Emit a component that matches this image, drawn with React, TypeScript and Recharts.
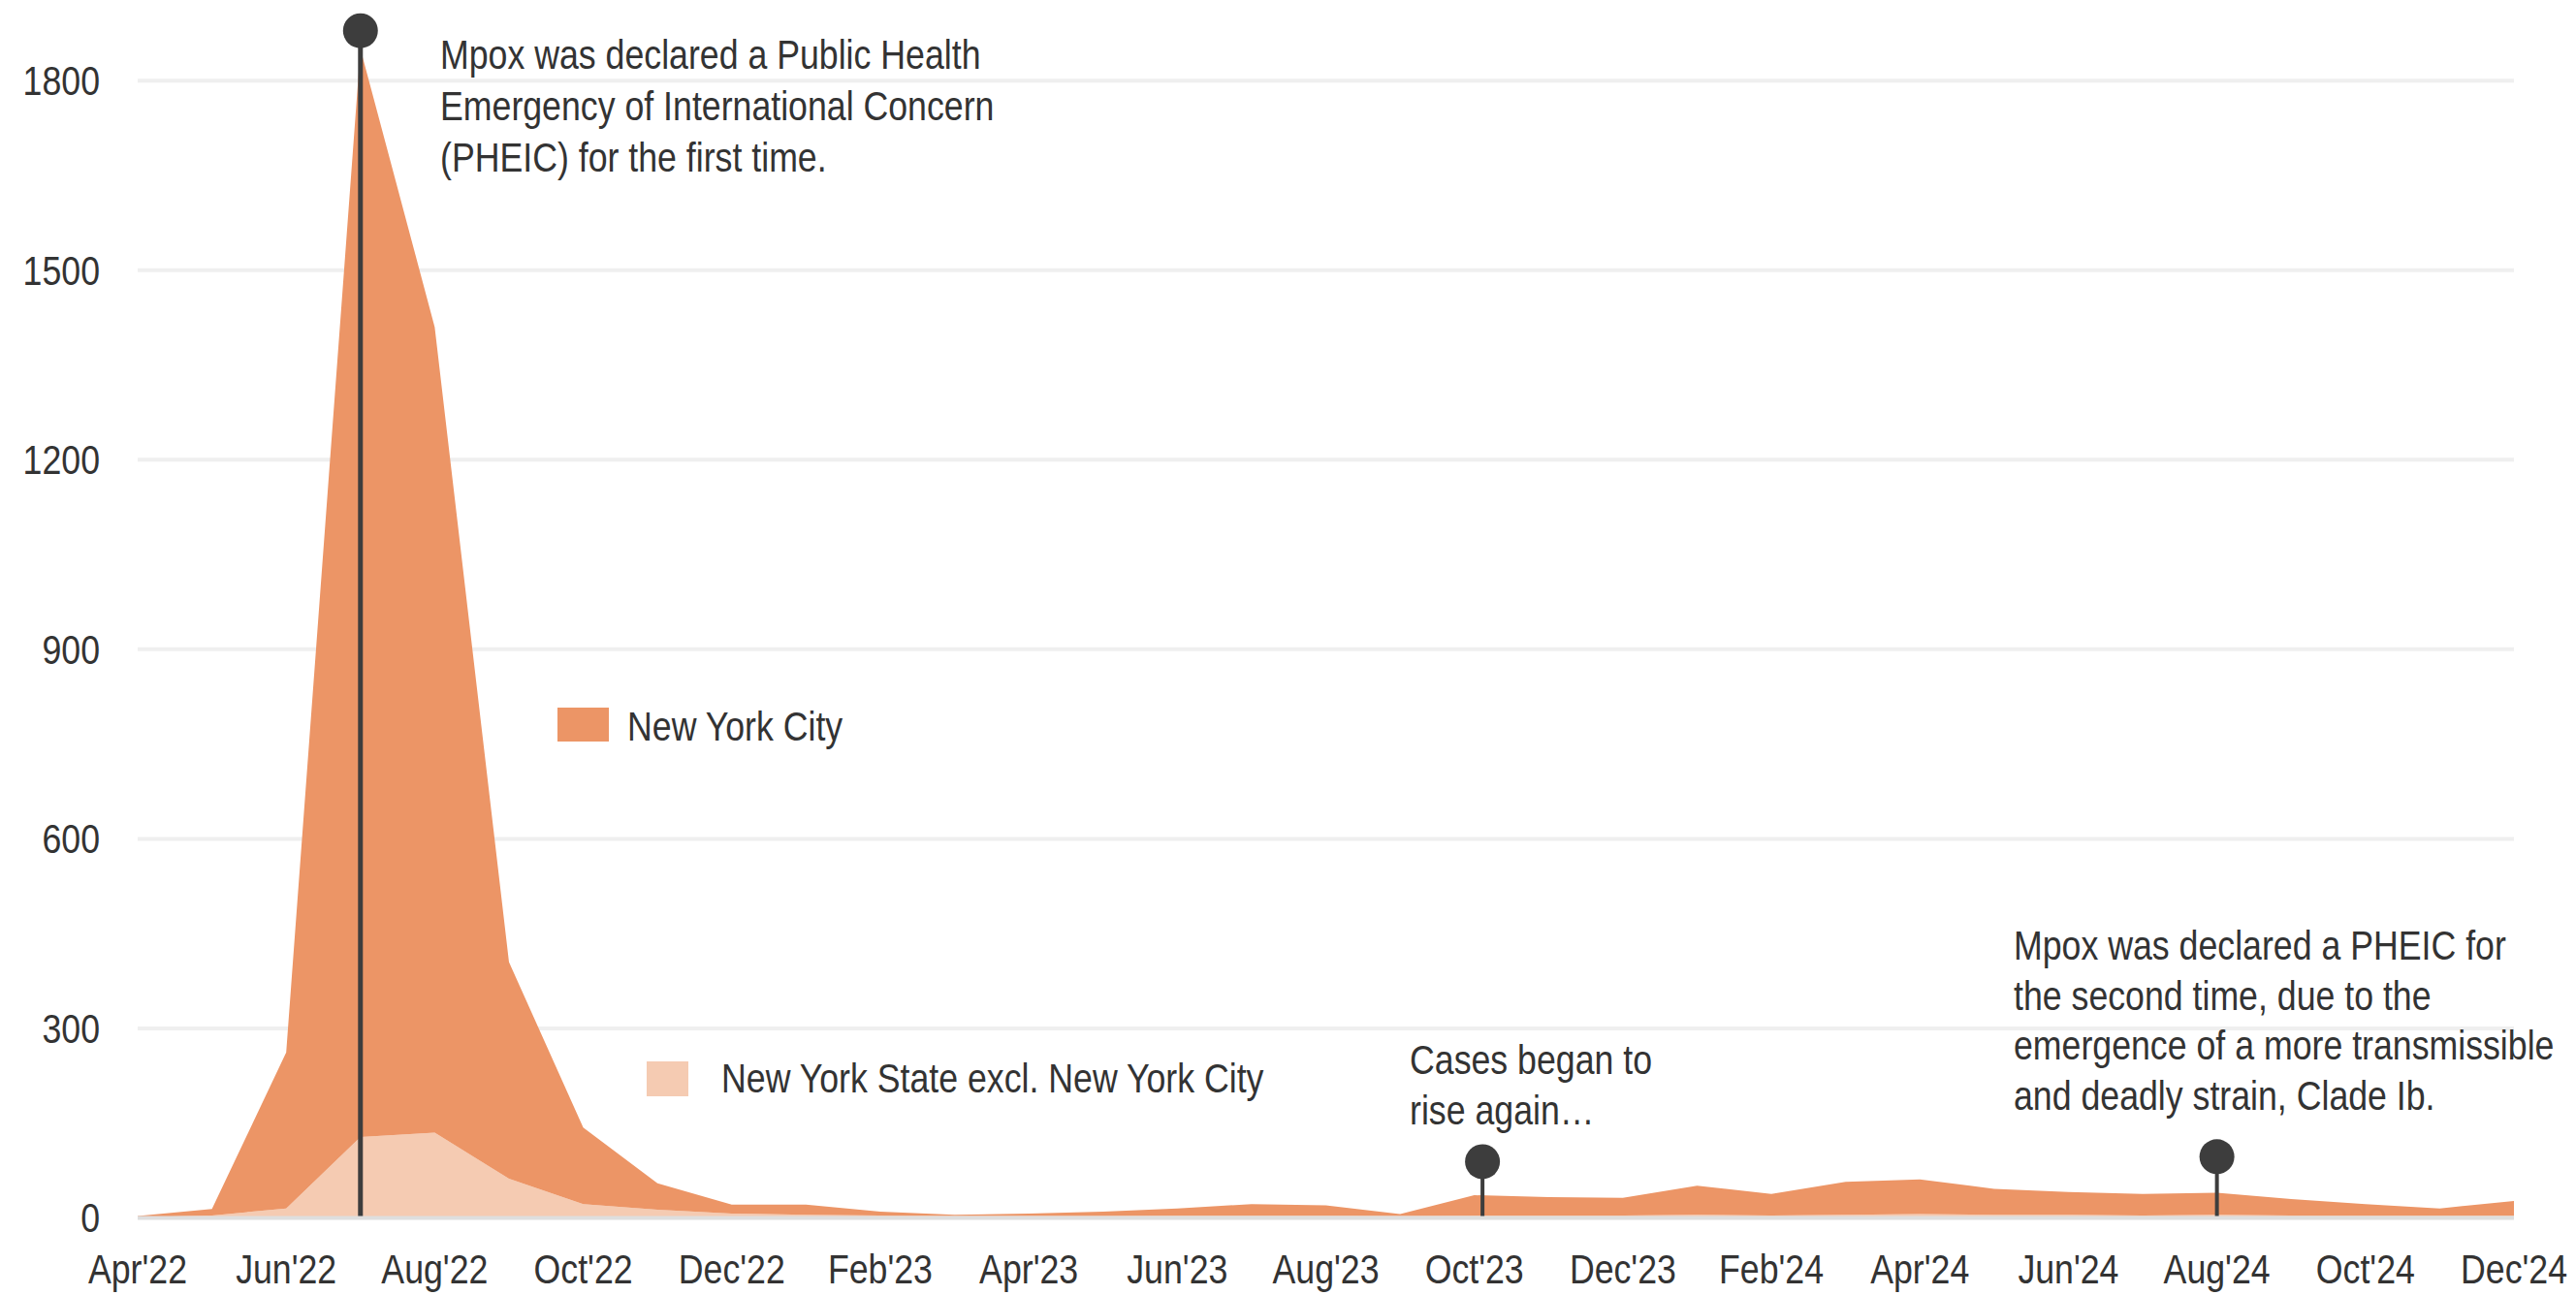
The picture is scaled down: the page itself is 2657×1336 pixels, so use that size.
import React from 'react';
import { AreaChart, Area, XAxis, YAxis, CartesianGrid, ReferenceLine, ReferenceDot } from 'recharts';

const months = [
  "Apr'22", "May'22", "Jun'22", "Jul'22", "Aug'22", "Sep'22", "Oct'22", "Nov'22", "Dec'22",
  "Jan'23", "Feb'23", "Mar'23", "Apr'23", "May'23", "Jun'23", "Jul'23", "Aug'23", "Sep'23", "Oct'23", "Nov'23", "Dec'23",
  "Jan'24", "Feb'24", "Mar'24", "Apr'24", "May'24", "Jun'24", "Jul'24", "Aug'24", "Sep'24", "Oct'24", "Nov'24", "Dec'24",
];

const nysExclNycCases = [1, 4, 15, 128, 135, 62, 22, 13, 7, 5, 4, 3, 3, 3, 4, 4, 4, 3, 4, 4, 4, 5, 4, 5, 6, 5, 5, 4, 5, 4, 4, 4, 4];
const nycCases = [2, 10, 247, 1722, 1275, 343, 121, 42, 14, 16, 6, 2, 4, 7, 11, 18, 16, 3, 32, 29, 28, 46, 34, 52, 55, 41, 36, 34, 35, 26, 18, 11, 23];

const yTicks = [0, 300, 600, 900, 1200, 1500, 1800];
const gridValues = [300, 600, 900, 1200, 1500, 1800];
const xTickIdx = [0, 2, 4, 6, 8, 10, 12, 14, 16, 18, 20, 22, 24, 26, 28, 30, 32];

const markerX = [3, 18.11, 28];
const markerY = [1879, 89, 97];

const seriesNames = ['New York City', 'New York State excl. New York City'];
const annotation1 = ['Mpox was declared a Public Health', 'Emergency of International Concern', '(PHEIC) for the first time.'];
const annotation2 = ['Cases began to', 'rise again…'];
const annotation3 = ['Mpox was declared a PHEIC for', 'the second time, due to the', 'emergence of a more transmissible', 'and deadly strain, Clade Ib.'];

const data = months.map((m, i) => ({ idx: i, month: m, nyc: nycCases[i], nys: nysExclNycCases[i] }));

const FONT = "'Liberation Sans', Arial, sans-serif";
const TEXT = '#333333';
const DARK = '#EC9566';
const LIGHT = '#F5CBB2';
const PIN = '#3d3d3d';
const SX = 0.85;
const FS = 42;

const W = 2645;
const H = 1328;

function NText({ x, y, anchor = 'start', dy, children }: any) {
  return (
    <text
      transform={`translate(${x},${y}) scale(${SX},1)`}
      x={0}
      y={0}
      dy={dy}
      textAnchor={anchor}
      fontFamily={FONT}
      fontSize={FS}
      fill={TEXT}
    >
      {children}
    </text>
  );
}

function XTick(props: any) {
  const { x, y, payload } = props;
  return <NText x={x} y={y} anchor="middle" dy="0.71em">{months[payload.value]}</NText>;
}

function YTick(props: any) {
  const { x, y, payload } = props;
  return <NText x={x} y={y} anchor="end" dy="0.355em">{payload.value}</NText>;
}

export default function App() {
  return (
    <div style={{ position: 'relative', width: W, height: H, background: '#fff' }}>
      <AreaChart width={W} height={H} data={data} margin={{ top: 10, right: 60, bottom: 0, left: 0 }} style={{ overflow: 'visible' }}>
        <CartesianGrid vertical={false} horizontalValues={gridValues} stroke="#efefef" strokeWidth={4} />
        <XAxis
          dataKey="idx"
          type="number"
          domain={[0, 32]}
          ticks={xTickIdx}
          interval={0}
          height={79.5}
          tickSize={0}
          tickMargin={38}
          tickLine={false}
          axisLine={{ stroke: '#dedede', strokeWidth: 4 }}
          tick={<XTick />}
        />
        <YAxis
          domain={[0, 1900]}
          ticks={yTicks}
          interval={0}
          width={134}
          tickSize={0}
          tickMargin={39}
          tickLine={false}
          axisLine={false}
          tick={<YTick />}
        />
        <Area type="linear" dataKey="nys" stackId="a" stroke="none" fill={LIGHT} fillOpacity={1} isAnimationActive={false} />
        <Area type="linear" dataKey="nyc" stackId="a" stroke="none" fill={DARK} fillOpacity={1} isAnimationActive={false} />
        {markerX.map((x, i) => (
          <ReferenceLine
            key={'l' + i}
            segment={[{ x, y: 0 }, { x, y: markerY[i] }]}
            stroke={PIN}
            strokeWidth={i === 0 ? 5 : 4}
            ifOverflow="visible"
          />
        ))}
        {markerX.map((x, i) => (
          <ReferenceDot key={'d' + i} x={x} y={markerY[i]} r={18} fill={PIN} stroke="none" ifOverflow="visible" />
        ))}
      </AreaChart>
      <svg width={W} height={H} style={{ position: 'absolute', left: 0, top: 0, pointerEvents: 'none' }}>
        {annotation1.map((t, i) => (
          <NText key={'a1' + i} x={446} y={63 + i * 53}>{t}</NText>
        ))}
        {annotation2.map((t, i) => (
          <NText key={'a2' + i} x={1446} y={1100 + i * 52}>{t}</NText>
        ))}
        {annotation3.map((t, i) => (
          <NText key={'a3' + i} x={2069} y={982 + i * 51.7}>{t}</NText>
        ))}
        <rect x={567} y={722} width={53} height={35} fill={DARK} />
        <NText x={639} y={756}>{seriesNames[0]}</NText>
        <rect x={659} y={1087} width={43} height={36} fill={LIGHT} />
        <NText x={736} y={1119}>{seriesNames[1]}</NText>
      </svg>
    </div>
  );
}
